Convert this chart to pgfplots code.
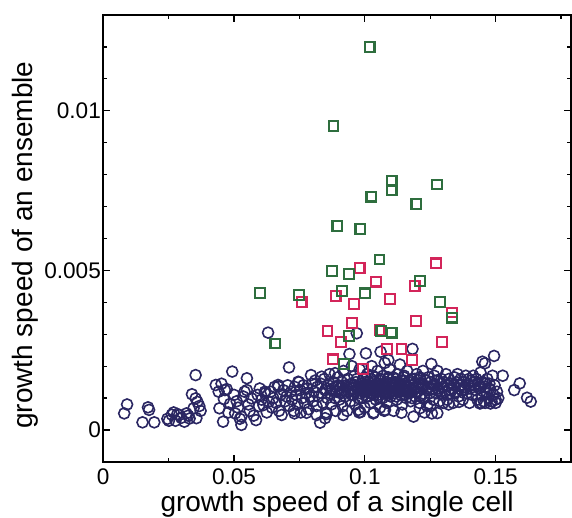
\documentclass[border=0pt]{standalone}
\usepackage{fontspec}
\setmainfont{Liberation Sans}
\usepackage{pgfplots}
\pgfplotsset{compat=1.18}
\usetikzlibrary{calc}
\definecolor{circ}{RGB}{42,38,98}
\definecolor{sqg}{RGB}{46,110,62}
\definecolor{sqr}{RGB}{211,37,90}
\begin{document}
\begin{tikzpicture}
\begin{axis}[
 scale only axis, width=233.9pt, height=223.5pt,
 xmin=0, xmax=0.1788, ymin=-0.001, ymax=0.013,
 xtick={0,0.05,0.1,0.15}, xticklabels={0,0.05,0.1,0.15},
 ytick={0,0.005,0.01}, yticklabels={0,0.005,0.01},
 minor xtick={0.025,0.075,0.125,0.175},
 minor ytick={0.001,0.002,0.003,0.004,0.006,0.007,0.008,0.009,0.011,0.012},
 scaled ticks=false,
 tick align=inside, major tick length=3.5pt, minor tick length=2pt,
 axis line style={line width=0.8pt},
 tick style={black, line width=0.6pt},
 ticklabel style={font=\fontsize{11.3}{13}\selectfont},
 yticklabel style={inner xsep=1pt},
 xlabel={growth speed of a single cell},
 ylabel={growth speed of an ensemble},
 label style={font=\fontsize{14}{17}\selectfont},
 xlabel style={at={(axis description cs:0.5,-0.112)}, anchor=base},
 ylabel style={at={(axis description cs:-0.152,0.485)}, anchor=base},
]
\coordinate (sw) at (rel axis cs:0,0);
\coordinate (ne) at (rel axis cs:1,1);
% single-cell ensemble circles
\addplot[only marks, mark=o, mark size=2.75pt, mark options={line width=0.8pt, draw=circ}] coordinates {
(0.0080,0.00052)(0.0091,0.00080)(0.0150,0.00024)(0.0171,0.00071)(0.0175,0.00063)(0.0195,0.00024)
(0.0245,0.00035)(0.0251,0.00029)(0.0262,0.00048)(0.0269,0.00055)(0.0276,0.00029)(0.0283,0.00050)
(0.0290,0.00047)(0.0298,0.00038)(0.0310,0.00026)(0.0318,0.00052)(0.0325,0.00045)(0.0339,0.00112)
(0.0345,0.00068)(0.0353,0.00172)(0.0353,0.00099)(0.0356,0.00037)(0.0360,0.00088)(0.0367,0.00075)
(0.0372,0.00060)(0.0330,0.00036)
(0.0430,0.00141)(0.0441,0.00120)(0.0444,0.00068)(0.0452,0.00145)(0.0458,0.00026)(0.0461,0.00097)
(0.0465,0.00125)(0.0472,0.00128)(0.0478,0.00055)(0.0485,0.00082)(0.0493,0.00183)(0.0500,0.00110)
(0.0504,0.00052)(0.0510,0.00090)(0.0515,0.00070)(0.0522,0.00035)(0.0528,0.00016)(0.0528,0.00042)
(0.0535,0.00105)(0.0540,0.00120)(0.0549,0.00162)(0.0549,0.00125)(0.0555,0.00080)(0.0560,0.00060)
(0.0567,0.00099)(0.0575,0.00045)(0.0584,0.00031)(0.0590,0.00110)(0.0595,0.00075)
(0.0598,0.00130)(0.0605,0.00095)(0.0612,0.00078)(0.0618,0.00115)(0.0625,0.00055)(0.0630,0.00305)
(0.0633,0.00089)(0.0640,0.00120)(0.0645,0.00070)(0.0650,0.00100)(0.0655,0.00135)(0.0660,0.00085)
(0.0668,0.00141)(0.0672,0.00060)(0.0678,0.00110)(0.0682,0.00047)(0.0688,0.00125)(0.0695,0.00090)
(0.0700,0.00105)(0.0705,0.00140)(0.0710,0.00196)(0.0712,0.00075)(0.0718,0.00120)(0.0722,0.00095)
(0.0728,0.00060)(0.0732,0.00135)(0.0738,0.00110)(0.0742,0.00080)(0.0748,0.00150)(0.0752,0.00125)
(0.0755,0.00055)(0.0760,0.00100)(0.0765,0.00140)(0.0770,0.00085)(0.0775,0.00115)(0.0780,0.00130)
(0.0785,0.00065)(0.0790,0.00105)(0.0794,0.00172)(0.0798,0.00145)
(0.0802,0.00090)(0.0805,0.00120)(0.0810,0.00155)(0.0815,0.00075)(0.0818,0.00135)(0.0822,0.00105)
(0.0829,0.00023)(0.0832,0.00145)(0.0836,0.00115)(0.0840,0.00085)(0.0845,0.00160)(0.0848,0.00125)
(0.0852,0.00055)(0.0856,0.00100)(0.0860,0.00140)(0.0865,0.00175)(0.0868,0.00115)(0.0872,0.00080)
(0.0876,0.00130)(0.0880,0.00150)(0.0885,0.00100)(0.0888,0.00060)(0.0892,0.00120)(0.0896,0.00165)
(0.0899,0.00140)
(0.0902,0.00095)(0.0905,0.00130)(0.0908,0.00115)(0.0912,0.00150)(0.0915,0.00075)(0.0918,0.00185)
(0.0922,0.00125)(0.0925,0.00105)(0.0928,0.00140)(0.0932,0.00060)(0.0935,0.00160)(0.0938,0.00120)
(0.0941,0.00238)(0.0944,0.00090)(0.0948,0.00145)(0.0950,0.00200)(0.0952,0.00130)(0.0956,0.00110)
(0.0960,0.00170)(0.0963,0.00080)(0.0966,0.00150)(0.0969,0.00303)(0.0972,0.00125)(0.0975,0.00135)
(0.0978,0.00055)(0.0980,0.00190)(0.0983,0.00115)(0.0986,0.00145)(0.0990,0.00100)(0.0993,0.00160)
(0.0996,0.00130)(0.0999,0.00070)
(0.1002,0.00140)(0.1004,0.00240)(0.1006,0.00120)(0.1009,0.00175)(0.1012,0.00105)(0.1015,0.00150)
(0.1018,0.00130)(0.1020,0.00085)(0.1023,0.00160)(0.1026,0.00200)(0.1028,0.00115)(0.1031,0.00140)
(0.1034,0.00055)(0.1036,0.00125)(0.1039,0.00165)(0.1042,0.00095)(0.1045,0.00145)(0.1048,0.00185)
(0.1050,0.00110)(0.1053,0.00130)(0.1056,0.00155)(0.1058,0.00070)(0.1060,0.00245)(0.1062,0.00120)
(0.1065,0.00140)(0.1068,0.00100)(0.1070,0.00170)(0.1073,0.00130)(0.1076,0.00210)(0.1078,0.00115)
(0.1081,0.00150)(0.1084,0.00085)(0.1086,0.00135)(0.1089,0.00160)(0.1092,0.00120)(0.1095,0.00190)
(0.1098,0.00105)
(0.1101,0.00145)(0.1104,0.00130)(0.1107,0.00165)(0.1110,0.00060)(0.1113,0.00115)(0.1116,0.00150)
(0.1119,0.00135)(0.1122,0.00095)(0.1125,0.00175)(0.1128,0.00125)(0.1131,0.00140)(0.1134,0.00205)
(0.1137,0.00110)(0.1140,0.00155)(0.1143,0.00080)(0.1146,0.00130)(0.1149,0.00165)(0.1152,0.00120)
(0.1155,0.00145)(0.1158,0.00100)(0.1162,0.00185)(0.1165,0.00135)(0.1168,0.00115)(0.1172,0.00155)
(0.1175,0.00090)(0.1178,0.00140)(0.1182,0.00254)(0.1185,0.00125)(0.1186,0.00042)(0.1189,0.00160)
(0.1192,0.00105)(0.1195,0.00135)(0.1198,0.00175)
(0.1202,0.00120)(0.1205,0.00145)(0.1208,0.00085)(0.1212,0.00160)(0.1215,0.00130)(0.1218,0.00110)
(0.1222,0.00185)(0.1225,0.00140)(0.1228,0.00100)(0.1232,0.00155)(0.1235,0.00125)(0.1238,0.00075)
(0.1242,0.00165)(0.1245,0.00135)(0.1248,0.00115)(0.1252,0.00150)(0.1254,0.00207)(0.1256,0.00052)
(0.1258,0.00130)(0.1262,0.00095)(0.1265,0.00170)(0.1268,0.00140)(0.1272,0.00115)(0.1275,0.00155)
(0.1278,0.00185)(0.1282,0.00125)(0.1285,0.00090)(0.1288,0.00145)(0.1292,0.00160)(0.1295,0.00110)
(0.1298,0.00135)
(0.1302,0.00150)(0.1306,0.00120)(0.1310,0.00175)(0.1314,0.00095)(0.1318,0.00140)(0.1322,0.00160)
(0.1326,0.00115)(0.1330,0.00145)(0.1334,0.00130)(0.1338,0.00085)(0.1342,0.00165)(0.1346,0.00120)
(0.1350,0.00150)(0.1354,0.00175)(0.1358,0.00105)(0.1362,0.00140)(0.1366,0.00160)(0.1370,0.00125)
(0.1374,0.00095)(0.1378,0.00150)(0.1382,0.00135)(0.1386,0.00170)(0.1390,0.00115)(0.1394,0.00145)
(0.1398,0.00160)
(0.1402,0.00130)(0.1406,0.00155)(0.1410,0.00110)(0.1414,0.00170)(0.1418,0.00140)(0.1422,0.00125)
(0.1426,0.00160)(0.1430,0.00095)(0.1434,0.00145)(0.1438,0.00130)(0.1442,0.00180)(0.1446,0.00110)
(0.1450,0.00150)(0.1459,0.00209)(0.1455,0.00090)(0.1460,0.00135)(0.1464,0.00120)(0.1468,0.00160)
(0.1472,0.00100)(0.1476,0.00145)(0.1480,0.00125)(0.1484,0.00090)(0.1488,0.00170)(0.1494,0.00232)
(0.1492,0.00110)(0.1496,0.00140)(0.1500,0.00095)
(0.1505,0.00120)(0.1510,0.00100)(0.1527,0.00170)(0.1571,0.00125)(0.1592,0.00146)(0.1620,0.00101)
(0.1634,0.00089)(0.1449,0.00214)
(0.0731,0.00052)(0.0777,0.00054)(0.0854,0.00050)(0.0917,0.00047)(0.0983,0.00056)(0.1032,0.00052)
(0.1074,0.00060)(0.1140,0.00054)(0.1228,0.00055)(0.1277,0.00053)(0.1445,0.00085)(0.1480,0.00083)
(0.0816,0.00047)(0.0848,0.00037)(0.0975,0.00063)(0.1077,0.00063)(0.1090,0.00219)(0.0669,0.00136)
(0.0618,0.00120)(0.0745,0.00151)(0.0835,0.00167)(0.0886,0.00178)
(0.1300,0.00085)(0.1320,0.00080)(0.1360,0.00088)(0.1400,0.00085)(0.1440,0.00083)(0.1460,0.00085)
(0.1500,0.00085)(0.1210,0.00068)(0.1250,0.00075)
(0.0870,0.00125)(0.0890,0.00135)(0.0910,0.00120)(0.0930,0.00135)(0.0945,0.00125)(0.0955,0.00140)
(0.0965,0.00120)(0.0985,0.00135)(0.0995,0.00120)(0.1000,0.00150)(0.1010,0.00125)(0.1025,0.00135)
(0.1035,0.00150)(0.1045,0.00120)(0.1055,0.00140)(0.1065,0.00125)(0.1075,0.00145)(0.1085,0.00130)
(0.1095,0.00145)(0.1105,0.00120)(0.1115,0.00140)(0.1125,0.00130)(0.1135,0.00145)(0.1145,0.00125)
(0.1155,0.00135)(0.1165,0.00150)(0.1175,0.00125)(0.1185,0.00140)(0.1195,0.00120)(0.1205,0.00135)
(0.1220,0.00145)(0.1240,0.00130)(0.1260,0.00140)(0.1280,0.00130)(0.1300,0.00135)(0.1320,0.00125)
(0.1340,0.00140)(0.1360,0.00130)(0.1380,0.00125)(0.1400,0.00140)(0.1420,0.00150)(0.1440,0.00135)
(0.1460,0.00145)(0.1475,0.00130)
(0.0950,0.00110)(0.0975,0.00100)(0.1005,0.00105)(0.1035,0.00110)(0.1060,0.00100)(0.1090,0.00110)
(0.1120,0.00105)(0.1150,0.00110)(0.1180,0.00100)(0.1210,0.00105)
(0.0970,0.00160)(0.1000,0.00165)(0.1030,0.00170)(0.1060,0.00160)(0.1090,0.00165)(0.1120,0.00160)
(0.1150,0.00170)(0.1180,0.00160)(0.1210,0.00165)
(0.1005,0.00135)(0.1040,0.00130)(0.1070,0.00135)(0.1100,0.00135)(0.1130,0.00120)(0.1160,0.00125)
(0.0985,0.00125)(0.1015,0.00140)(0.1050,0.00145)(0.1080,0.00120)(0.1110,0.00150)(0.1140,0.00140)
};
% red squares
\addplot[only marks, mark=square, mark size=2.45pt, mark options={line width=1.05pt, draw=sqr}] coordinates {
(0.1273,0.00522)(0.0980,0.00508)(0.1042,0.00465)(0.1190,0.00451)(0.0888,0.00420)(0.1095,0.00410)
(0.0758,0.00401)(0.0959,0.00394)(0.1333,0.00368)(0.1196,0.00342)(0.0951,0.00336)(0.0857,0.00311)
(0.1056,0.00313)(0.0909,0.00275)(0.1296,0.00276)(0.1085,0.00253)(0.1140,0.00253)(0.0878,0.00221)
(0.1179,0.00219)(0.0994,0.00190)
};
% green squares
\addplot[only marks, mark=square, mark size=2.45pt, mark options={line width=1.05pt, draw=sqg}] coordinates {
(0.1018,0.01200)(0.0880,0.00953)(0.1102,0.00780)(0.1102,0.00752)(0.1277,0.00769)(0.1025,0.00731)
(0.1197,0.00707)(0.0895,0.00640)(0.0983,0.00629)(0.1056,0.00534)(0.0875,0.00498)(0.0938,0.00489)
(0.1210,0.00467)(0.0598,0.00430)(0.0748,0.00422)(0.0912,0.00436)(0.1000,0.00428)(0.1287,0.00401)
(0.1333,0.00352)(0.1063,0.00310)(0.1102,0.00305)(0.0938,0.00294)(0.0658,0.00271)(0.0920,0.00206)
};
\end{axis}
\pgfresetboundingbox
\path ($(sw)+(-51.65pt,-28pt)$) rectangle ($(ne)+(0.5pt,7.5pt)$);
\end{tikzpicture}
\end{document}
